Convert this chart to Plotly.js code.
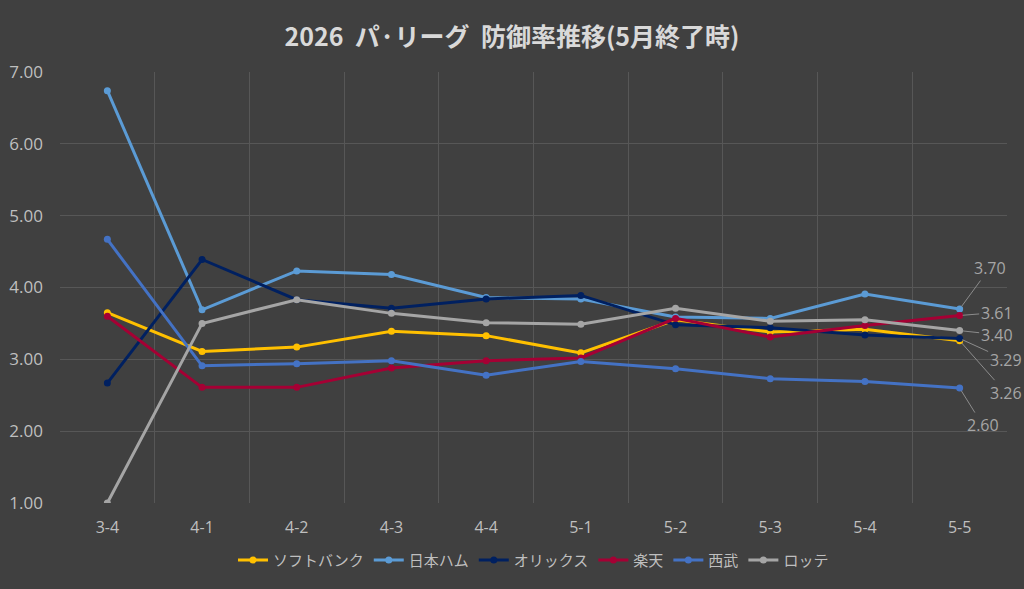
<!DOCTYPE html>
<html>
<head>
<meta charset="utf-8">
<script src="https://cdn.plot.ly/plotly-3.0.1.min.js"></script>
<style>
  html, body { margin: 0; padding: 0; background: #404040; }
  #graph { width: 1024px; height: 589px; }
</style>
</head>
<body>
<div id="graph"></div>
<script>
// categories (month-week)
const weeks = ["3-4", "4-1", "4-2", "4-3", "4-4", "5-1", "5-2", "5-3", "5-4", "5-5"];

// team ERA per week
const softbank = [3.65, 3.11, 3.17, 3.39, 3.33, 3.09, 3.55, 3.38, 3.42, 3.26];
const nipponham = [6.74, 3.69, 4.23, 4.18, 3.86, 3.84, 3.59, 3.57, 3.91, 3.70];
const orix = [2.67, 4.39, 3.83, 3.71, 3.84, 3.89, 3.48, 3.44, 3.34, 3.29];
const rakuten = [3.60, 2.61, 2.61, 2.88, 2.98, 3.02, 3.57, 3.31, 3.47, 3.61];
const seibu = [4.67, 2.91, 2.94, 2.98, 2.78, 2.97, 2.87, 2.73, 2.69, 2.60];
const lotte = [1.00, 3.50, 3.83, 3.64, 3.51, 3.49, 3.71, 3.53, 3.55, 3.40];

const teams = [
    { name: "ソフトバンク", y: softbank, color: "#ffc000" },
    { name: "日本ハム", y: nipponham, color: "#5b9bd5" },
    { name: "オリックス", y: orix, color: "#002060" },
    { name: "楽天", y: rakuten, color: "#a50034" },
    { name: "西武", y: seibu, color: "#4472c4" },
    { name: "ロッテ", y: lotte, color: "#a5a5a5" }
];

// end labels: [team index, x offset, y offset]
const endLabels = [
    [1, 30, -41],
    [3, 37, -3],
    [5, 37, 4],
    [2, 46, 21],
    [0, 46, 52],
    [4, 23, 37]
];

const font = "'Noto Sans CJK JP', 'Noto Sans', sans-serif";
const numFont = "'Open Sans', 'Noto Sans', sans-serif";

function initPlot() {
    const traces = teams.map(t => ({
        name: t.name,
        x: weeks,
        y: t.y,
        type: "scatter",
        mode: "lines+markers",
        line: { color: t.color, width: 3 },
        marker: { color: t.color, size: 7 }
    }));

    const annotations = endLabels.map(([i, ax, ay]) => {
        const t = teams[i];
        const last = t.y.length - 1;
        return {
            x: weeks[last],
            y: t.y[last],
            text: t.y[last].toFixed(2),
            showarrow: true,
            arrowhead: 0,
            arrowwidth: 1,
            arrowcolor: "#8c8c8c",
            ax: ax,
            ay: ay,
            standoff: 3,
            font: { family: numFont, size: 16, color: "#a6a6a6" }
        };
    });

    const layout = {
        width: 1024,
        height: 589,
        paper_bgcolor: "#404040",
        plot_bgcolor: "#404040",
        margin: { l: 60, r: 17, t: 72, b: 81 },
        font: { family: font, color: "#bfbfbf" },
        title: {
            text: "<b>2026  パ·リーグ  防御率推移(5月終了時)</b>",
            font: { family: font, size: 25, color: "#d9d9d9" },
            x: 0.5,
            xanchor: "center",
            y: 1 - 37 / 589,
            yanchor: "middle",
            yref: "container"
        },
        xaxis: {
            type: "category",
            range: [-0.5, 9.5],
            tickson: "boundaries",
            ticks: "",
            showgrid: true,
            gridcolor: "#575757",
            gridwidth: 1,
            showline: false,
            zeroline: false,
            tickfont: { family: numFont, size: 16, color: "#bfbfbf" },
            ticklabelstandoff: 13
        },
        yaxis: {
            range: [1, 7],
            dtick: 1,
            tickformat: ".2f",
            showgrid: true,
            gridcolor: "#575757",
            gridwidth: 1,
            zeroline: false,
            showline: false,
            ticks: "",
            ticklabelstandoff: 16,
            tickfont: { family: numFont, size: 17, color: "#bfbfbf" }
        },
        showlegend: true,
        legend: {
            orientation: "h",
            x: 0.5,
            xanchor: "center",
            y: -0.133,
            yanchor: "middle",
            font: { family: font, size: 15, color: "#bfbfbf" },
            itemwidth: 30,
            bgcolor: "rgba(0,0,0,0)"
        },
        annotations: annotations
    };

    const config = {
        displaylogo: false,
        displayModeBar: false,
        staticPlot: true
    };

    Plotly.newPlot("graph", traces, layout, config);
}

initPlot();
</script>
</body>
</html>
